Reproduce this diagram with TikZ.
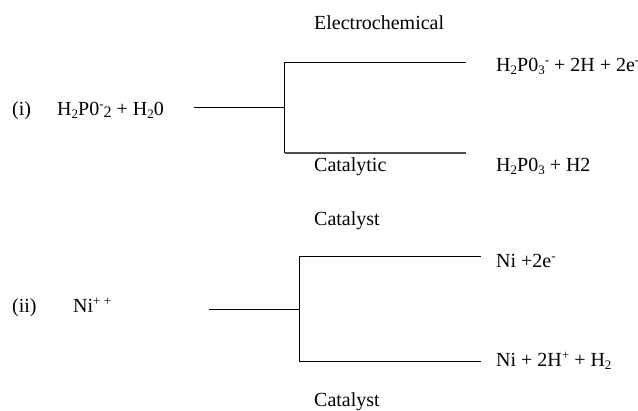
\documentclass[tikz,border=0pt]{standalone}
\usepackage{fontspec}
\setmainfont{Liberation Serif}
\newcommand{\lowtxt}[1]{\raisebox{-3pt}{\fontsize{13}{14}\selectfont #1}}
\newcommand{\hightxt}[1]{\raisebox{7pt}{\fontsize{13}{14}\selectfont #1}}
\begin{document}
\begin{tikzpicture}[x=1pt,y=-1pt,
  lbl/.style={anchor=base west,inner sep=0pt,font=\fontsize{20}{24}\selectfont},
  wire/.style={draw=black,line width=1pt},
  wirelow/.style={draw=black!70,line width=1.3pt}]
\fill[white] (0,0) rectangle (638,411);
\useasboundingbox (0,0) rectangle (638,411);
\node[lbl] (elec) at (314,30) {Electrochemical};
\node[lbl] (i) at (12,116) {(i)};
\node[lbl] (r1) at (57,116) {H\lowtxt{2}P0\hightxt{-}\raisebox{-2pt}{\fontsize{16}{20}\selectfont 2} + H\lowtxt{2}0};
\node[lbl] (p1) at (496,72) {H\lowtxt{2}P0\lowtxt{3}\hightxt{-} + 2H + 2e\hightxt{-}};
\node[lbl] (cat) at (314,172) {Catalytic};
\node[lbl] (p2) at (496,172) {H\lowtxt{2}P0\lowtxt{3} + H2};
\node[lbl] (c1) at (314,226) {Catalyst};
\node[lbl] (ii) at (12,313) {(ii)};
\node[lbl] (r2) at (73,313) {Ni\hightxt{+ +}};
\node[lbl] (p3) at (496,268) {Ni +2e\hightxt{-}};
\node[lbl] (p4) at (496,367) {Ni + 2H\hightxt{+} + H\lowtxt{2}};
\node[lbl] (c2) at (314,406.5) {Catalyst};
\coordinate (a0) at (193.5,108);
\coordinate (aj) at (284.5,108);
\coordinate (at) at (284.5,62.5);
\coordinate (ab) at (284.5,153);
\coordinate (a1) at (465.5,62.5);
\coordinate (a2) at (465.5,153);
\coordinate (b0) at (209,309.5);
\coordinate (bj) at (299.5,309.5);
\coordinate (bt) at (299.5,256.5);
\coordinate (bb) at (299.5,362);
\coordinate (b1) at (480.5,256.5);
\coordinate (b2) at (480.5,362);
\draw[wire] (a0) -- (aj);
\draw[wire] (a1) -- (at) -- (ab);
\draw[wirelow] (ab) -- (a2);
\draw[wire] (b0) -- (bj);
\draw[wire] (b1) -- (bt) -- (bb) -- (b2);
\end{tikzpicture}
\end{document}
